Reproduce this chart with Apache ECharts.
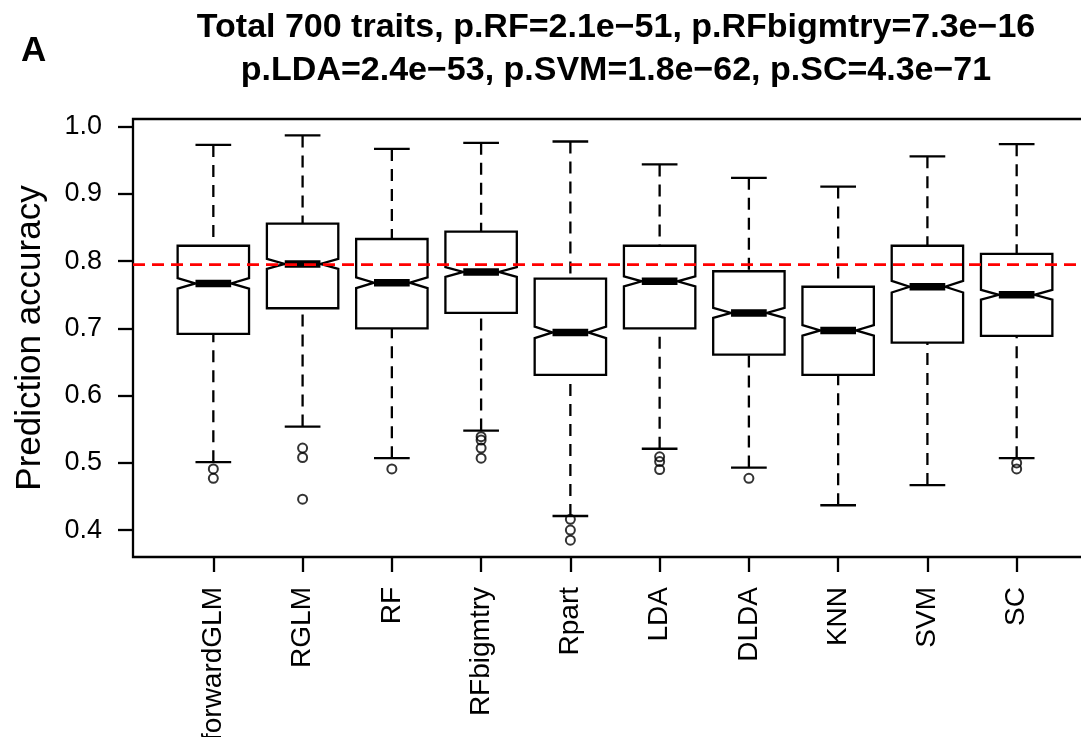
<!DOCTYPE html>
<html>
<head>
<meta charset="utf-8">
<script src="https://cdn.jsdelivr.net/npm/echarts@6/dist/echarts.min.js"></script>
<style>
  html, body { margin: 0; padding: 0; background: #fff; }
  #chart { width: 1081px; height: 737px; }
</style>
</head>
<body>
<div id="chart"></div>
<script>
// Prediction accuracy per method over 700 traits (five-number summaries + outliers)
const categories   = ['forwardGLM', 'RGLM', 'RF', 'RFbigmtry', 'Rpart', 'LDA', 'DLDA', 'KNN', 'SVM', 'SC'];
const lowerWhisker = [0.501, 0.554, 0.507, 0.548, 0.421, 0.521, 0.493, 0.437, 0.467, 0.507];
const lowerHinge   = [0.692, 0.730, 0.700, 0.723, 0.631, 0.700, 0.661, 0.631, 0.679, 0.689];
const medians      = [0.767, 0.796, 0.768, 0.784, 0.694, 0.770, 0.723, 0.697, 0.762, 0.750];
const upperHinge   = [0.823, 0.856, 0.833, 0.844, 0.774, 0.823, 0.785, 0.762, 0.823, 0.811];
const upperWhisker = [0.973, 0.987, 0.967, 0.976, 0.978, 0.944, 0.924, 0.911, 0.956, 0.974];
const outliers = [
  [0.491, 0.477],
  [0.522, 0.508, 0.446],
  [0.491],
  [0.539, 0.534, 0.522, 0.507],
  [0.416, 0.400, 0.385],
  [0.509, 0.502, 0.490],
  [0.477],
  [],
  [],
  [0.500, 0.491]
];
const referenceLine = 0.795;
const traitCount = 700;
const yTicks = [0.4, 0.5, 0.6, 0.7, 0.8, 0.9, 1.0];
const titleLines = [
  'Total 700 traits, p.RF=2.1e\u221251, p.RFbigmtry=7.3e\u221216',
  'p.LDA=2.4e\u221253, p.SVM=1.8e\u221262, p.SC=4.3e\u221271'
];
const panelLetter = 'A';
const yAxisTitle = 'Prediction accuracy';

const FONT = '"Liberation Sans", Arial, Helvetica, sans-serif';
const xMin = 0.1, xMax = 10.9;
const xPositions = categories.map((c, i) => i + 1);

const boxData = categories.map((c, i) => [
  i + 1, lowerWhisker[i], lowerHinge[i], medians[i], upperHinge[i], upperWhisker[i]
]);
const outlierData = [];
outliers.forEach((vals, i) => vals.forEach(v => outlierData.push([i + 1, v])));

// Notched box (R style): notch half-height = 1.58 * IQR / sqrt(n)
function renderBox(params, api) {
  const x = api.value(0);
  const lo = api.value(1), q1 = api.value(2), med = api.value(3), q3 = api.value(4), hi = api.value(5);
  const notch = 1.58 * (q3 - q1) / Math.sqrt(traitCount);
  const w = api.size([0.8, 0])[0];
  const cx = api.coord([x, med])[0];
  const Y = v => api.coord([x, v])[1];
  const l = cx - w / 2, r = cx + w / 2, nl = cx - w / 4, nr = cx + w / 4;
  const pts = [
    [l, Y(q1)], [l, Y(med - notch)], [nl, Y(med)], [l, Y(med + notch)], [l, Y(q3)],
    [r, Y(q3)], [r, Y(med + notch)], [nr, Y(med)], [r, Y(med - notch)], [r, Y(q1)]
  ];
  const solid = { stroke: '#000', lineWidth: 2.3, fill: null };
  const dashed = { stroke: '#000', lineWidth: 2.3, lineDash: [12, 8], fill: null };
  return {
    type: 'group',
    children: [
      { type: 'line', shape: { x1: cx, y1: Y(hi), x2: cx, y2: Y(q3) }, style: dashed },
      { type: 'line', shape: { x1: cx, y1: Y(lo), x2: cx, y2: Y(q1) }, style: dashed },
      { type: 'line', shape: { x1: nl, y1: Y(hi), x2: nr, y2: Y(hi) }, style: solid },
      { type: 'line', shape: { x1: nl, y1: Y(lo), x2: nr, y2: Y(lo) }, style: solid },
      { type: 'polygon', shape: { points: pts }, style: { stroke: '#000', lineWidth: 2.3, fill: null, lineJoin: 'miter' } },
      { type: 'line', shape: { x1: nl, y1: Y(med), x2: nr, y2: Y(med) }, style: { stroke: '#000', lineWidth: 7.5, lineCap: 'butt' } }
    ]
  };
}

const chart = echarts.init(document.getElementById('chart'), null, { renderer: 'canvas' });
chart.setOption({
  animation: false,
  backgroundColor: '#fff',
  textStyle: { fontFamily: FONT },
  graphic: [
    { type: 'text', x: 616, y: 28, style: { text: titleLines[0], font: 'bold 34px ' + FONT, fill: '#000', textAlign: 'center', textVerticalAlign: 'middle' } },
    { type: 'text', x: 616, y: 71, style: { text: titleLines[1], font: 'bold 34px ' + FONT, fill: '#000', textAlign: 'center', textVerticalAlign: 'middle' } },
    { type: 'text', x: 21, y: 51, style: { text: panelLetter, font: 'bold 35px ' + FONT, fill: '#000', textAlign: 'left', textVerticalAlign: 'middle' } }
  ],
  grid: {
    left: 133, top: 119, width: 964, height: 438,
    outerBoundsMode: 'none', containLabel: false,
    show: true, borderColor: '#000', borderWidth: 2.3, backgroundColor: 'transparent'
  },
  xAxis: {
    type: 'value', min: xMin, max: xMax,
    splitLine: { show: false },
    axisLine: { show: false },
    axisTick: { show: true, customValues: xPositions, length: 15, lineStyle: { color: '#000', width: 2.3 } },
    axisLabel: {
      customValues: xPositions, rotate: 90, margin: 30,
      fontSize: 28, color: '#000', fontFamily: FONT,
      formatter: v => categories[Math.round(v) - 1] || ''
    }
  },
  yAxis: {
    type: 'value', min: 0.36, max: 1.0115,
    name: yAxisTitle, nameLocation: 'middle', nameRotate: 90, nameGap: 85,
    nameTextStyle: { fontSize: 35, color: '#000', fontFamily: FONT },
    splitLine: { show: false },
    axisLine: { show: false },
    axisTick: { show: true, customValues: yTicks, length: 15, lineStyle: { color: '#000', width: 2.3 } },
    axisLabel: {
      customValues: yTicks, margin: 31,
      fontSize: 27, color: '#000', fontFamily: FONT,
      formatter: v => v.toFixed(1)
    }
  },
  series: [
    {
      type: 'custom',
      renderItem: renderBox,
      encode: { x: 0, y: [1, 2, 3, 4, 5] },
      data: boxData,
      z: 2
    },
    {
      type: 'scatter',
      data: outlierData,
      symbol: 'circle',
      symbolSize: 9,
      itemStyle: { color: 'transparent', borderColor: '#000', borderWidth: 2 },
      z: 3
    },
    {
      // horizontal reference line across the whole plot region
      type: 'line',
      data: [[xMin, referenceLine], [xMax, referenceLine]],
      symbol: 'none',
      silent: true,
      lineStyle: { color: '#ff0000', width: 2.8, type: [12, 7] },
      z: 5
    }
  ]
});
</script>
</body>
</html>
